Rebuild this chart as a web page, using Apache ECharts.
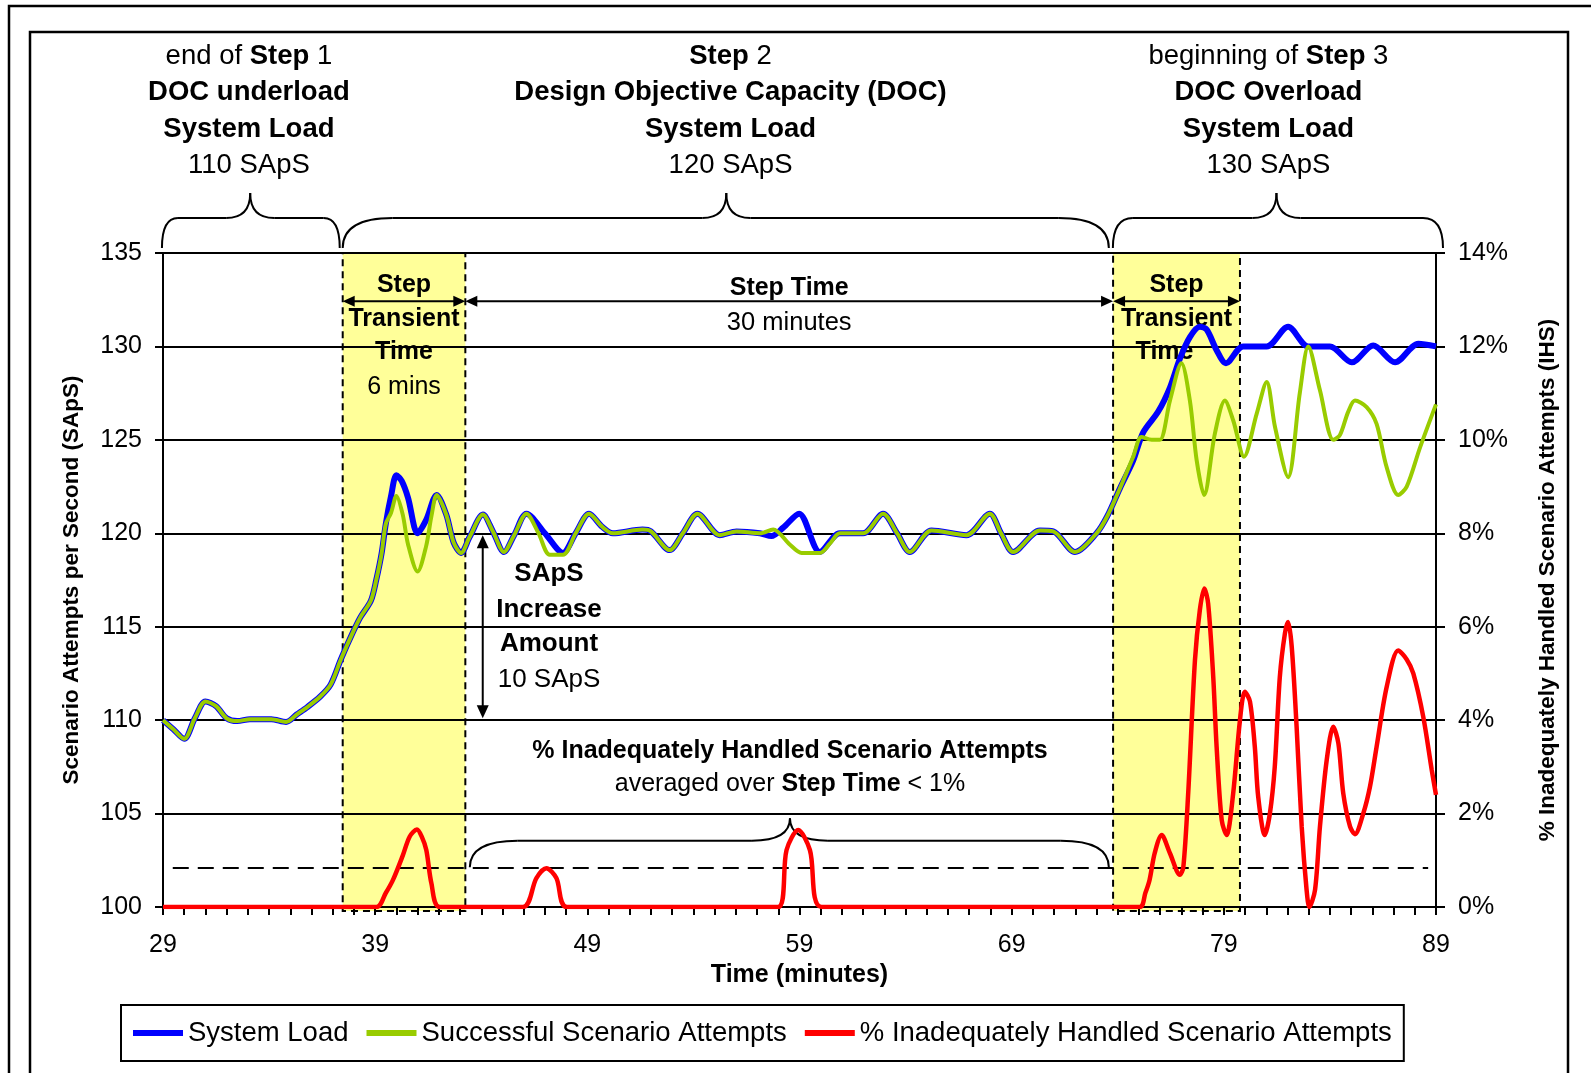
<!DOCTYPE html>
<html><head><meta charset="utf-8">
<script src="https://cdn.jsdelivr.net/npm/echarts@6/dist/echarts.min.js"></script>
<style>html,body{margin:0;padding:0;background:#fff}#c{width:1591px;height:1073px}</style>
</head><body><div id="c"></div>
<script>
// ---------- data ----------
const loadTime  = [29,29.5,30,30.5,31,31.5,32,32.5,33.1,34.1,34.8,35.3,35.8,36.4,36.9,37.4,37.95,38.3,38.8,39.05,39.3,39.5,39.75,40.0,40.25,40.55,41.0,41.4,41.9,42.35,42.7,43.05,43.45,44.08,44.55,45.07,45.55,46.13,47.0,47.85,48.45,49.08,49.7,50.2,51.6,52.0,52.88,53.5,54.19,55.24,56.03,57.13,57.68,58.23,58.98,59.96,60.9,62.0,62.94,63.6,64.2,65.22,66.87,67.97,68.5,69.07,70.33,70.96,71.98,73.0,73.5,74.1,74.73,75.2,75.9,76.46,76.93,77.4,77.87,78.19,78.66,79.1,79.91,81.02,82.03,82.98,84.0,85.03,86.04,87.07,88.17,89.0];
const loadValue = [110,109.5,109,110.1,111,110.75,110.1,109.95,110.05,110.05,109.9,110.3,110.7,111.25,111.9,113.3,114.7,115.5,116.4,117.5,118.9,120.5,122.0,123.1,122.8,121.9,120.0,120.7,122.05,121.0,119.5,118.95,119.8,121.0,120.1,119.0,119.9,121.05,120.0,118.95,120.0,121.05,120.35,120.0,120.2,120.1,119.1,120.0,121.05,119.9,120.1,120.0,119.85,120.3,121.05,119.0,120.0,120.0,121.05,120.0,119.0,120.15,119.9,121.05,120.0,119.0,120.15,120.1,119.0,120.0,120.9,122.4,123.9,125.4,126.5,127.8,129.35,130.5,131.05,130.9,129.8,129.1,130.0,130.0,131.05,130.0,130.0,129.15,130.05,129.15,130.15,130.0];

const successTime  = [29,29.5,30,30.5,31,31.5,32,32.5,33.1,34.1,34.8,35.3,35.8,36.4,36.9,37.4,37.95,38.3,38.8,39.05,39.3,39.5,39.75,40.0,40.3,40.55,41.0,41.4,41.65,41.9,42.35,42.7,43.05,43.45,44.08,44.55,45.07,45.55,46.13,46.7,47.23,47.85,48.45,49.08,49.7,50.2,51.6,52.0,52.88,53.5,54.19,55.24,56.03,57.13,57.76,58.54,59.1,59.96,60.43,60.9,62.0,62.94,63.6,64.2,65.22,66.87,67.97,68.5,69.07,70.33,70.96,71.98,73.0,73.5,74.1,74.73,75.12,75.6,75.98,76.46,77.0,77.4,77.72,78.07,78.58,79.05,79.44,79.95,80.55,81.02,81.41,82.03,82.58,82.98,83.53,84.16,84.47,84.86,85.18,85.73,86.2,86.67,87.22,87.62,88.25,89.0];
const successValue = [110,109.5,109,110.1,111,110.75,110.1,109.95,110.05,110.05,109.9,110.3,110.7,111.25,111.9,113.3,114.7,115.5,116.4,117.5,118.9,120.5,121.1,122.0,121.0,119.4,117.95,119.3,120.9,122.05,121.0,119.5,118.95,119.8,121.0,120.1,119.0,119.9,121.05,120.0,118.85,118.85,120.0,121.05,120.35,120.0,120.2,120.1,119.1,120.0,121.05,119.9,120.1,120.0,120.2,119.4,118.95,118.95,119.45,120.0,120.0,121.05,120.0,119.0,120.15,119.9,121.05,120.0,119.0,120.15,120.1,119.0,120.0,120.9,122.4,124.1,125.15,125.0,125.0,127.1,129.1,127.1,123.9,122.05,125.35,127.1,126.05,124.1,126.4,128.1,125.7,123.0,127.5,130.0,127.65,125.0,125.25,126.5,127.1,126.75,125.85,123.55,122.05,122.5,124.6,126.9];

const ihsTime  = [29,39.06,39.5,39.84,40.3,40.63,40.97,41.2,41.41,41.65,42.04,45.97,46.6,47.07,47.54,48.04,57.99,58.39,58.94,59.49,60.04,75.03,75.3,75.5,75.74,76.07,76.46,76.93,77.09,77.32,77.64,77.87,78.08,78.26,78.5,78.66,78.9,79.13,79.44,79.76,79.99,80.23,80.46,80.62,80.93,81.17,81.4,81.64,81.88,82.03,82.2,82.43,82.67,82.9,83.03,83.3,83.53,83.85,84.16,84.4,84.63,84.95,85.18,85.57,85.89,86.2,86.68,87.22,87.62,87.93,88.4,88.8,89.0];
const ihsValue = [0,0,0.3,0.58,1.1,1.51,1.66,1.5,1.22,0.51,0,0,0.62,0.83,0.62,0,0,1.22,1.65,1.22,0,0,0.3,0.58,1.15,1.54,1.15,0.69,0.85,2.43,5.29,6.36,6.82,6.5,4.93,3.43,1.86,1.54,2.43,4.0,4.61,4.4,3.43,2.36,1.54,2.0,3.0,4.93,5.86,6.1,5.57,3.86,1.72,0.37,0,0.37,1.72,3.15,3.86,3.5,2.43,1.72,1.56,2.0,2.58,3.43,4.72,5.49,5.3,5.0,4.07,2.93,2.4];

const xTickLabels = [29,39,49,59,69,79,89];
const transientStart = [37.47, 73.78];
const transientEnd   = [43.25, 79.76];
const stepStart = [28.95, 37.47, 73.77];
const stepEnd   = [37.33, 73.58, 89.33];
const stepMid   = [33.11, 55.55, 81.48];
const ihsAverageLimit = 0.85;   // dashed level (% IHS)
const stepTimeStart = 43.25, stepTimeEnd = 73.78;
const saps = {low: 110, high: 120};

const FONT = '"Liberation Sans", Arial, sans-serif';
const pairs = (t, v) => t.map((x, i) => [x, v[i]]);

const chart = echarts.init(document.getElementById('c'), null, {renderer: 'canvas'});

const option = {
  animation: false,
  backgroundColor: '#fff',
  textStyle: {fontFamily: FONT, color: '#000'},
  grid: {left: 163, right: 155, top: 253, bottom: 166},
  legend: {
    data: ['System Load', 'Successful Scenario Attempts', '% Inadequately Handled Scenario Attempts'],
    left: 121, top: 1005,
    icon: 'rect', itemWidth: 50, itemHeight: 6, itemGap: 18,
    padding: [14, 12, 14, 12],
    borderColor: '#000', borderWidth: 2,
    textStyle: {fontSize: 27.5, color: '#000', fontFamily: FONT}
  },
  xAxis: {
    type: 'value', min: 29, max: 89, interval: 1,
    axisLine: {lineStyle: {color: '#000', width: 2}},
    axisTick: {length: 8, lineStyle: {color: '#000', width: 2}},
    axisLabel: {fontSize: 25, color: '#000', margin: 26,
      formatter: v => xTickLabels.includes(v) ? String(v) : ''},
    splitLine: {show: false},
    name: 'Time (minutes)', nameLocation: 'middle', nameGap: 50,
    nameTextStyle: {fontSize: 25, fontWeight: 'bold', color: '#000'}
  },
  yAxis: [{
    type: 'value', min: 100, max: 135, interval: 5,
    axisLine: {show: true, lineStyle: {color: '#000', width: 2}},
    axisTick: {show: true, length: 8, lineStyle: {color: '#000', width: 2}},
    axisLabel: {fontSize: 25, color: '#000', margin: 21},
    splitLine: {show: true, lineStyle: {color: '#000', width: 2}},
    name: 'Scenario Attempts per Second (SApS)', nameLocation: 'middle', nameGap: 80, nameRotate: 90,
    nameTextStyle: {fontSize: 22.5, fontWeight: 'bold', color: '#000'}
  }, {
    type: 'value', min: 0, max: 14, interval: 2, position: 'right',
    axisLine: {show: true, lineStyle: {color: '#000', width: 2}},
    axisTick: {show: true, length: 9, lineStyle: {color: '#000', width: 2}},
    axisLabel: {fontSize: 25, color: '#000', margin: 22, formatter: '{value}%'},
    splitLine: {show: false},
    name: '% Inadequately Handled Scenario Attempts (IHS)', nameLocation: 'middle', nameGap: 100, nameRotate: 90,
    nameTextStyle: {fontSize: 22.5, fontWeight: 'bold', color: '#000'}
  }],
  series: [{
    name: 'transient', type: 'custom', z: -1, silent: true,
    data: transientStart.map((s, i) => [s, transientEnd[i], 100, 135]),
    encode: {x: [0, 1], y: [2, 3]},
    renderItem: (params, api) => {
      const p0 = api.coord([api.value(0), api.value(3)]);
      const p1 = api.coord([api.value(1), api.value(2)]);
      return {type: 'rect', shape: {x: p0[0], y: p0[1], width: p1[0] - p0[0], height: p1[1] - p0[1] + 4},
        style: {fill: '#FFFF99', stroke: '#000', lineWidth: 2, lineDash: [7, 5]}};
    }
  }, {
    name: 'System Load', type: 'line', data: pairs(loadTime, loadValue),
    showSymbol: false, symbol: 'none', smooth: 0.3, z: 3,
    lineStyle: {color: '#0000FF', width: 6}, itemStyle: {color: '#0000FF'}
  }, {
    name: 'Successful Scenario Attempts', type: 'line', data: pairs(successTime, successValue),
    showSymbol: false, symbol: 'none', smooth: 0.3, z: 4,
    lineStyle: {color: '#99CC00', width: 4}, itemStyle: {color: '#99CC00'}
  }, {
    name: '% Inadequately Handled Scenario Attempts', type: 'line', yAxisIndex: 1,
    data: pairs(ihsTime, ihsValue),
    showSymbol: false, symbol: 'none', smooth: 0.3, z: 5,
    lineStyle: {color: '#FF0000', width: 4.5}, itemStyle: {color: '#FF0000'},
    markLine: {silent: true, symbol: 'none', label: {show: false},
      lineStyle: {color: '#000', width: 2, type: [16, 9]},
      data: [[{coord: [29.46, ihsAverageLimit]}, {coord: [88.63, ihsAverageLimit]}]]}
  }]
};
chart.setOption(option);

// ---------- annotations ----------
const P = (t, v) => chart.convertToPixel({xAxisIndex: 0, yAxisIndex: 0}, [t, v]);
const Q = (t, p) => chart.convertToPixel({xAxisIndex: 0, yAxisIndex: 1}, [t, p]);
const els = [];
const LS = {stroke: '#000', lineWidth: 2, fill: null};

function qcurve(x1, y1, cx, cy, x2, y2) {
  els.push({type: 'bezierCurve', shape: {x1: x1, y1: y1, cpx1: cx, cpy1: cy, x2: x2, y2: y2}, style: LS});
}
function seg(x1, y1, x2, y2) {
  els.push({type: 'line', shape: {x1: x1, y1: y1, x2: x2, y2: y2}, style: {stroke: '#000', lineWidth: 2}});
}
function brace(x0, x1, xm, yEnd, yFlat, yTip, r, rt) {
  qcurve(x0, yEnd, x0, yFlat, x0 + r, yFlat);
  seg(x0 + r, yFlat, xm - rt, yFlat);
  qcurve(xm - rt, yFlat, xm, yFlat, xm, yTip);
  qcurve(xm, yTip, xm, yFlat, xm + rt, yFlat);
  seg(xm + rt, yFlat, x1 - r, yFlat);
  qcurve(x1 - r, yFlat, x1, yFlat, x1, yEnd);
}
function hArrow(xa, xb, y) {
  seg(xa + 4, y, xb - 4, y);
  els.push({type: 'polygon', shape: {points: [[xa, y], [xa + 12, y - 5.5], [xa + 12, y + 5.5]]}, style: {fill: '#000'}});
  els.push({type: 'polygon', shape: {points: [[xb, y], [xb - 12, y - 5.5], [xb - 12, y + 5.5]]}, style: {fill: '#000'}});
}
function vArrow(x, ya, yb) {
  seg(x, ya + 4, x, yb - 4);
  els.push({type: 'polygon', shape: {points: [[x, ya], [x - 6, ya + 13], [x + 6, ya + 13]]}, style: {fill: '#000'}});
  els.push({type: 'polygon', shape: {points: [[x, yb], [x - 6, yb - 13], [x + 6, yb - 13]]}, style: {fill: '#000'}});
}
function txt(x, y, text, size, bold, rich) {
  const st = {text: text, fill: '#000', fontFamily: FONT, fontSize: size,
              fontWeight: bold ? 'bold' : 'normal', align: 'center', verticalAlign: 'middle',
              textAlign: 'center', textVerticalAlign: 'middle'};
  if (rich) st.rich = rich;
  els.push({type: 'text', x: x, y: y, style: st});
}
const rich = s => ({n: {fontFamily: FONT, fontSize: s, fontWeight: 'normal', fill: '#000', color: '#000'},
                    b: {fontFamily: FONT, fontSize: s, fontWeight: 'bold', fill: '#000', color: '#000'}});

// frames
els.push({type: 'rect', shape: {x: 9, y: 6, width: 1620, height: 1120}, style: {stroke: '#000', lineWidth: 2.5, fill: null}});
els.push({type: 'rect', shape: {x: 30, y: 32, width: 1538, height: 1100}, style: {stroke: '#000', lineWidth: 2.5, fill: null}});

// step braces and titles
const yTop = P(29, 135)[1];
const braceR = [16, 50, 20];
const stepTitles = [
  ['{n|end of }{b|Step}{n| 1}', '{b|DOC underload}', '{b|System Load}', '{n|110 SApS}'],
  ['{b|Step}{n| 2}', '{b|Design Objective Capacity (DOC)}', '{b|System Load}', '{n|120 SApS}'],
  ['{n|beginning of }{b|Step}{n| 3}', '{b|DOC Overload}', '{b|System Load}', '{n|130 SApS}']
];
const titleCenters = [33.05, 55.75, 81.1];
const titleLineY = [56, 92, 129, 165];
for (let i = 0; i < 3; i++) {
  const x0 = P(stepStart[i], 135)[0], x1 = P(stepEnd[i], 135)[0], xm = P(stepMid[i], 135)[0];
  brace(x0, x1, xm, yTop - 5, yTop - 35, yTop - 60, braceR[i], 24);
  const xc = P(titleCenters[i], 135)[0];
  stepTitles[i].forEach((line, k) => txt(xc, titleLineY[k], line, 27.5, false, rich(27.5)));
}

// transient / step time arrows
const yArr = P(29, 132.42)[1];
hArrow(P(transientStart[0], 0)[0], P(transientEnd[0], 0)[0], yArr);
hArrow(P(stepTimeStart, 0)[0], P(stepTimeEnd, 0)[0], yArr);
hArrow(P(transientStart[1], 0)[0], P(transientEnd[1], 0)[0], yArr);

const xT1 = (P(transientStart[0], 0)[0] + P(transientEnd[0], 0)[0]) / 2;
txt(xT1, 285, 'Step', 25, true);
txt(xT1, 319, 'Transient', 25, true);
txt(xT1, 352, 'Time', 25, true);
txt(xT1, 387, '6 mins', 25, false);
const xT2 = (P(transientStart[1], 0)[0] + P(transientEnd[1], 0)[0]) / 2;
txt(xT2, 285, 'Step', 25, true);
txt(xT2, 319, 'Transient', 25, true);
txt(xT2 - 12, 352, 'Time', 25, true);
const xST = (P(stepTimeStart, 0)[0] + P(stepTimeEnd, 0)[0]) / 2;
txt(xST, 288, 'Step Time', 25, true);
txt(xST, 323, '30 minutes', 25.5, false);

// SApS increase arrow
const xv = P(44.07, 0)[0];
vArrow(xv, P(0, saps.high)[1] + 2, P(0, saps.low)[1] - 2);
txt(549, 574, 'SApS', 26, true);
txt(549, 610, 'Increase', 26, true);
txt(549, 644, 'Amount', 26, true);
txt(549, 680, '10 SApS', 26, false);

// IHS average brace and text
const bx0 = Q(43.46, 0)[0], bx1 = Q(73.58, 0)[0], bxm = Q(58.55, 0)[0];
brace(bx0, bx1, bxm, Q(0, ihsAverageLimit)[1], Q(0, 1.42)[1], Q(0, 1.9)[1], 48, 38);
txt(bxm, 751, '% Inadequately Handled Scenario Attempts', 25, true);
txt(bxm, 784, '{n|averaged over }{b|Step Time}{n| < 1%}', 25, false, rich(25));

chart.setOption({graphic: {elements: els}});
</script>
</body></html>
